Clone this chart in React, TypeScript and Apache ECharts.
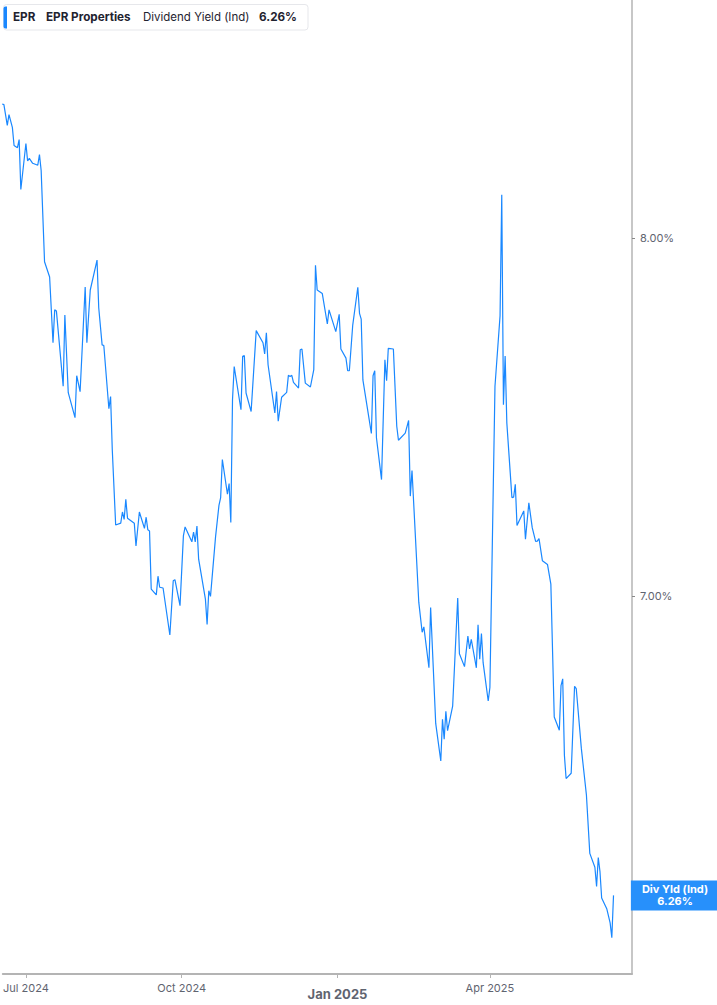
import React, { useEffect, useRef } from 'react';
import * as echarts from 'echarts';

// EPR Properties, indicated dividend yield (%), second half of 2024
const dates2024 = [
  '2024-06-17', '2024-06-18', '2024-06-20', '2024-06-21', '2024-06-23', '2024-06-24', '2024-06-26', '2024-06-27', '2024-06-28',
  '2024-07-01', '2024-07-02', '2024-07-03', '2024-07-05', '2024-07-08', '2024-07-09', '2024-07-10', '2024-07-12', '2024-07-15',
  '2024-07-17', '2024-07-18', '2024-07-19', '2024-07-23', '2024-07-24', '2024-07-26', '2024-07-30', '2024-07-31', '2024-08-02',
  '2024-08-05', '2024-08-06', '2024-08-08', '2024-08-12', '2024-08-13', '2024-08-15', '2024-08-16', '2024-08-19', '2024-08-20',
  '2024-08-21', '2024-08-23', '2024-08-26', '2024-08-27', '2024-08-28', '2024-08-29', '2024-08-30', '2024-09-03', '2024-09-04',
  '2024-09-06', '2024-09-09', '2024-09-10', '2024-09-11', '2024-09-12', '2024-09-13', '2024-09-16', '2024-09-17', '2024-09-18',
  '2024-09-20', '2024-09-24', '2024-09-26', '2024-09-27', '2024-09-30', '2024-10-02', '2024-10-03', '2024-10-07', '2024-10-08',
  '2024-10-09', '2024-10-10', '2024-10-11', '2024-10-15', '2024-10-16', '2024-10-17', '2024-10-18', '2024-10-21', '2024-10-23',
  '2024-10-24', '2024-10-25', '2024-10-28', '2024-10-29', '2024-10-30', '2024-10-31', '2024-11-01', '2024-11-05', '2024-11-06',
  '2024-11-07', '2024-11-08', '2024-11-11', '2024-11-14', '2024-11-18', '2024-11-19', '2024-11-20', '2024-11-21', '2024-11-25',
  '2024-11-26', '2024-11-27', '2024-11-29', '2024-12-02', '2024-12-03', '2024-12-04', '2024-12-05', '2024-12-06', '2024-12-09',
  '2024-12-10', '2024-12-11', '2024-12-13', '2024-12-16', '2024-12-18', '2024-12-19', '2024-12-20', '2024-12-23', '2024-12-26',
  '2024-12-27', '2024-12-31',
];
const yields2024 = [
  8.411, 8.409, 8.344, 8.378, 8.338, 8.282, 8.275, 8.3, 8.147,
  8.288, 8.234, 8.242, 8.227, 8.221, 8.254, 8.205, 7.93, 7.885,
  7.694, 7.789, 7.786, 7.57, 7.774, 7.552, 7.482, 7.6, 7.555,
  7.856, 7.694, 7.847, 7.935, 7.795, 7.688, 7.686, 7.507, 7.541,
  7.393, 7.188, 7.193, 7.223, 7.203, 7.257, 7.206, 7.193, 7.132,
  7.223, 7.179, 7.209, 7.175, 7.172, 7.018, 7.003, 7.052, 7.023,
  7.021, 6.899, 7.04, 7.043, 6.975, 7.159, 7.183, 7.143, 7.169,
  7.143, 7.185, 7.097, 6.992, 6.926, 7.014, 6.999, 7.157, 7.241,
  7.262, 7.366, 7.271, 7.3, 7.195, 7.532, 7.626, 7.504, 7.655,
  7.657, 7.551, 7.499, 7.729, 7.694, 7.662, 7.723, 7.631, 7.495,
  7.555, 7.472, 7.539, 7.553, 7.601, 7.598, 7.601, 7.581, 7.565,
  7.674, 7.676, 7.579, 7.568, 7.617, 7.92, 7.847, 7.837, 7.748,
  7.789, 7.726,
];

// first half of 2025
const dates2025 = [
  '2025-01-02', '2025-01-03', '2025-01-06', '2025-01-07', '2025-01-08', '2025-01-10', '2025-01-13', '2025-01-14', '2025-01-15',
  '2025-01-16', '2025-01-21', '2025-01-22', '2025-01-23', '2025-01-24', '2025-01-27', '2025-01-29', '2025-01-30', '2025-01-31',
  '2025-02-03', '2025-02-05', '2025-02-06', '2025-02-10', '2025-02-12', '2025-02-13', '2025-02-14', '2025-02-18', '2025-02-20',
  '2025-02-21', '2025-02-24', '2025-02-25', '2025-02-28', '2025-03-03', '2025-03-04', '2025-03-05', '2025-03-06', '2025-03-07',
  '2025-03-10', '2025-03-13', '2025-03-14', '2025-03-17', '2025-03-19', '2025-03-20', '2025-03-21', '2025-03-24', '2025-03-25',
  '2025-03-26', '2025-03-27', '2025-03-28', '2025-03-31', '2025-04-01', '2025-04-04', '2025-04-07', '2025-04-08', '2025-04-09',
  '2025-04-10', '2025-04-11', '2025-04-13', '2025-04-14', '2025-04-15', '2025-04-16', '2025-04-17', '2025-04-21', '2025-04-22',
  '2025-04-24', '2025-04-26', '2025-04-28', '2025-04-29', '2025-04-30', '2025-05-02', '2025-05-05', '2025-05-07', '2025-05-09',
  '2025-05-12', '2025-05-13', '2025-05-14', '2025-05-15', '2025-05-16', '2025-05-19', '2025-05-21', '2025-05-22', '2025-05-25',
  '2025-05-28', '2025-05-30', '2025-06-02', '2025-06-03', '2025-06-04', '2025-06-05', '2025-06-06', '2025-06-09', '2025-06-11',
  '2025-06-12', '2025-06-13',
];
const yields2025 = [
  7.776, 7.676, 7.65, 7.614, 7.614, 7.745, 7.855, 7.779, 7.762,
  7.588, 7.438, 7.6, 7.614, 7.426, 7.311, 7.645, 7.586, 7.678,
  7.676, 7.458, 7.419, 7.439, 7.474, 7.266, 7.336, 6.984, 6.906,
  6.92, 6.815, 6.97, 6.675, 6.582, 6.685, 6.636, 6.705, 6.657,
  6.718, 6.995, 6.851, 6.818, 6.896, 6.863, 6.888, 6.815, 6.925,
  6.837, 6.903, 6.828, 6.731, 6.765, 7.57, 7.772, 8.131, 7.518,
  7.656, 7.467, 7.33, 7.262, 7.263, 7.298, 7.187, 7.226, 7.15,
  7.248, 7.181, 7.144, 7.145, 7.152, 7.093, 7.083, 7.031, 6.691,
  6.658, 6.77, 6.787, 6.596, 6.539, 6.552, 6.768, 6.762, 6.613,
  6.499, 6.359, 6.326, 6.281, 6.349, 6.316, 6.254, 6.229, 6.196,
  6.162, 6.26,
];

const xTickDates = ['2024-07-01', '2024-10-01', '2025-01-01', '2025-04-01'];
const yTickValues = [7, 8];
const monthNames = ['Jan', 'Feb', 'Mar', 'Apr', 'May', 'Jun', 'Jul', 'Aug', 'Sep', 'Oct', 'Nov', 'Dec'];

const ticker = 'EPR';
const companyName = 'EPR Properties';
const metricName = 'Dividend Yield (Ind)';
const endTag = 'Div Yld (Ind)';

const BLUE = '#1a88ff';
const AXIS_GRAY = '#b4b4b4';
const LABEL_GRAY = '#5f6470';
const FONT = 'Inter, "Noto Sans", sans-serif';

// local-time timestamps for both plain dates and date-times
const ts = (s: string) => new Date(s.length === 10 ? s + 'T00:00' : s).getTime();

const App: React.FC = () => {
  const chartRef = useRef<HTMLDivElement>(null);

  useEffect(() => {
    if (!chartRef.current) return;
    const chart = echarts.init(chartRef.current, null, { renderer: 'svg' });

    const allDates = [...dates2024, ...dates2025];
    const allYields = [...yields2024, ...yields2025];
    const seriesData = allDates.map((d, i) => [ts(d), allYields[i]]);
    const lastYield = allYields[allYields.length - 1];
    const tickTimes = xTickDates.map(ts);

    const options: echarts.EChartsOption = {
      animation: false,
      textStyle: { fontFamily: FONT },
      grid: { left: 0, top: 0, right: 85, bottom: 31 },
      // timestamps on a linear axis, labelled as months
      xAxis: {
        type: 'value',
        min: ts('2024-06-17T09:00'),
        max: ts('2025-06-23T22:00'),
        axisLine: { show: true, lineStyle: { color: AXIS_GRAY, width: 2 } },
        axisTick: {
          show: true,
          length: 4,
          customValues: tickTimes,
          lineStyle: { color: AXIS_GRAY, width: 1 },
        },
        splitLine: { show: false },
        axisLabel: {
          customValues: tickTimes,
          margin: 8,
          fontSize: 11,
          color: LABEL_GRAY,
          fontFamily: FONT,
          formatter: (value: number) => {
            const d = new Date(value);
            const txt = `${monthNames[d.getMonth()]} ${d.getFullYear()}`;
            return d.getMonth() === 0 ? `{yr|${txt}}` : txt;
          },
          rich: {
            yr: { fontSize: 13, fontWeight: 'bold', color: LABEL_GRAY, fontFamily: FONT, padding: [5, 0, 0, 0] },
          },
        },
      },
      yAxis: {
        type: 'log',
        position: 'right',
        min: 6.079,
        max: 8.744,
        axisLine: { show: true, lineStyle: { color: AXIS_GRAY, width: 1.5 } },
        axisTick: {
          show: true,
          length: 3,
          customValues: yTickValues,
          lineStyle: { color: '#888', width: 1 },
        },
        splitLine: { show: false },
        axisLabel: {
          customValues: yTickValues,
          margin: 8,
          fontSize: 11,
          color: LABEL_GRAY,
          fontFamily: FONT,
          formatter: (v: number) => `${Number(v).toFixed(2)}%`,
        },
      },
      series: [
        {
          type: 'line',
          data: seriesData,
          showSymbol: false,
          lineStyle: { color: BLUE, width: 1.2 },
          itemStyle: { color: BLUE },
          markLine: {
            silent: true,
            symbol: 'none',
            lineStyle: { color: 'rgba(0,0,0,0)', width: 1, type: 'solid' },
            data: [{ yAxis: lastYield }],
            label: {
              show: true,
              position: 'end',
              distance: 0,
              offset: [43, 0],
              align: 'center',
              formatter: () => `${endTag}\n${lastYield.toFixed(2)}%`,
              backgroundColor: '#2790fb',
              color: '#fff',
              fontWeight: 'bold',
              fontSize: 11,
              lineHeight: 12,
              fontFamily: FONT,
              padding: [3, 11, 3, 11],
            },
          },
        },
      ],
      graphic: [
        {
          type: 'group',
          x: 0,
          y: 0,
          children: [
            {
              type: 'rect',
              shape: { x: 3.5, y: 4.5, width: 304.5, height: 25.5, r: 3 },
              style: { fill: '#fff', stroke: '#e6e7eb', lineWidth: 1 },
            },
            {
              type: 'rect',
              shape: { x: 3.5, y: 6.5, width: 3.5, height: 22, r: [2, 0, 0, 2] },
              style: { fill: BLUE },
            },
            {
              type: 'text',
              x: 13,
              y: 17,
              style: { text: ticker, font: `bold 11.7px ${FONT}`, fill: '#1f2330', verticalAlign: 'middle' },
            },
            {
              type: 'text',
              x: 46,
              y: 17,
              style: { text: companyName, font: `bold 11.7px ${FONT}`, fill: '#1f2330', verticalAlign: 'middle' },
            },
            {
              type: 'text',
              x: 143,
              y: 17,
              style: { text: metricName, font: `11.5px ${FONT}`, fill: '#1f2330', verticalAlign: 'middle' },
            },
            {
              type: 'text',
              x: 259,
              y: 17,
              style: {
                text: `${lastYield.toFixed(2)}%`,
                font: `bold 11.7px ${FONT}`,
                fill: '#1f2330',
                verticalAlign: 'middle',
              },
            },
          ],
        },
      ],
    };

    chart.setOption(options);

    return () => {
      chart.dispose();
    };
  }, []);

  return (
    <div style={{ position: 'absolute', left: 0, top: 0, width: 717, height: 1005, background: '#fff' }}>
      <div ref={chartRef} style={{ width: '100%', height: '100%' }} />
    </div>
  );
};

export default App;
